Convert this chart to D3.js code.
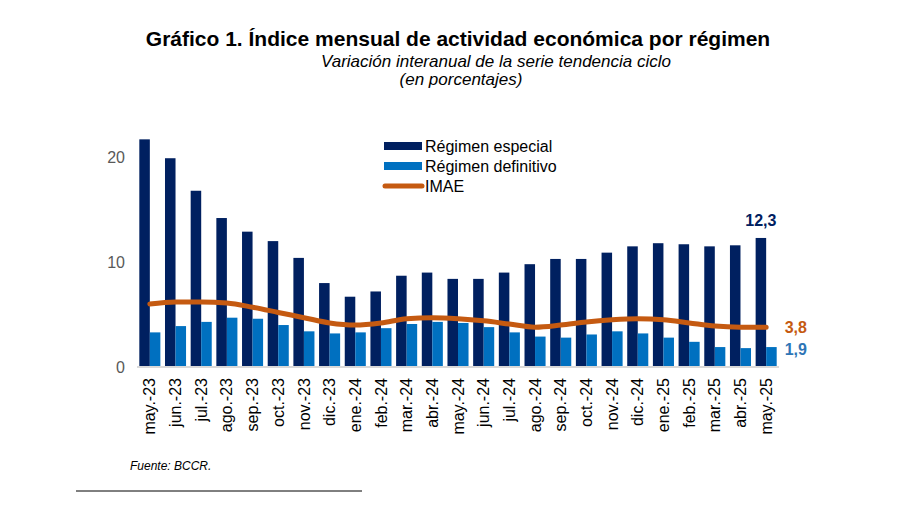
<!DOCTYPE html>
<html>
<head>
<meta charset="utf-8">
<script src="https://cdn.jsdelivr.net/npm/d3@7"></script>
<style>
  body { margin: 0; background: #fff; }
  svg { font-family: "Liberation Sans", Arial, sans-serif; }
</style>
</head>
<body>
<svg id="chart"></svg>
<script>
// datos
const meses = ["may.-23","jun.-23","jul.-23","ago.-23","sep.-23","oct.-23","nov.-23","dic.-23",
  "ene.-24","feb.-24","mar.-24","abr.-24","may.-24","jun.-24","jul.-24","ago.-24","sep.-24","oct.-24",
  "nov.-24","dic.-24","ene.-25","feb.-25","mar.-25","abr.-25","may.-25"];
const especial = [21.7,19.9,16.8,14.2,12.9,12.0,10.4,8.0,6.7,7.2,8.7,9.0,8.4,8.4,9.0,9.8,10.3,10.3,10.9,11.5,11.8,11.7,11.5,11.6,12.3];
const definitivo = [3.3,3.9,4.3,4.7,4.6,4.0,3.4,3.2,3.3,3.7,4.1,4.3,4.2,3.8,3.3,2.9,2.8,3.1,3.4,3.2,2.8,2.4,1.9,1.8,1.9];
const imae = [6.0,6.2,6.2,6.1,5.7,5.2,4.7,4.2,4.0,4.2,4.6,4.7,4.6,4.4,4.1,3.8,4.0,4.3,4.5,4.6,4.5,4.2,3.9,3.8,3.8];
const yTicks = [0, 10, 20];

const W = 904, H = 517;
const margin = { top: 132, right: 125, bottom: 150, left: 137 };
const width = W - margin.left - margin.right;
const height = H - margin.top - margin.bottom;

const svg = d3.select("#chart").attr("width", W).attr("height", H);

// titulos
svg.append("text").attr("x", 458).attr("y", 46).attr("text-anchor", "middle")
  .attr("font-size", 21).attr("font-weight", "bold").attr("fill", "#000")
  .text("Gráfico 1. Índice mensual de actividad económica por régimen");
svg.append("text").attr("x", 496).attr("y", 67).attr("text-anchor", "middle")
  .attr("font-size", 17).attr("font-style", "italic").attr("fill", "#000")
  .text("Variación interanual de la serie tendencia ciclo");
svg.append("text").attr("x", 461).attr("y", 85).attr("text-anchor", "middle")
  .attr("font-size", 17).attr("font-style", "italic").attr("fill", "#000")
  .text("(en porcentajes)");

const g = svg.append("g").attr("transform", `translate(${margin.left},${margin.top})`);

const x = d3.scaleBand().domain(meses).range([0, width]).paddingInner(0.18).paddingOuter(0.09);
const x1 = d3.scaleBand().domain(["esp", "def"]).range([0, x.bandwidth()]);
const y = d3.scaleLinear().domain([0, 22.4]).range([height, 0]);

// eje y (solo etiquetas)
g.selectAll(".ytick").data(yTicks).enter().append("text")
  .attr("x", -12).attr("y", d => y(d)).attr("dy", "0.35em")
  .attr("text-anchor", "end").attr("font-size", 16).attr("fill", "#595959")
  .text(d => d);

// barras
const grp = g.selectAll(".grp").data(meses).enter().append("g")
  .attr("transform", d => `translate(${x(d)},0)`);
grp.append("rect")
  .attr("x", x1("esp")).attr("width", x1.bandwidth())
  .attr("y", (d, i) => y(especial[i])).attr("height", (d, i) => height - y(especial[i]))
  .attr("fill", "#002060");
grp.append("rect")
  .attr("x", x1("def")).attr("width", x1.bandwidth())
  .attr("y", (d, i) => y(definitivo[i])).attr("height", (d, i) => height - y(definitivo[i]))
  .attr("fill", "#0070C0");

// linea base
g.append("line").attr("x1", 0).attr("x2", width).attr("y1", y(0)).attr("y2", y(0))
  .attr("stroke", "#D9D9D9").attr("stroke-width", 2);

// eje x
const xAxis = g.append("g").attr("transform", `translate(0,${height})`)
  .call(d3.axisBottom(x).tickSize(0).tickPadding(0));
xAxis.select(".domain").remove();
xAxis.selectAll("text")
  .attr("font-size", 16).attr("font-family", "Liberation Sans, Arial, sans-serif").attr("fill", "#000")
  .attr("transform", "rotate(-90)")
  .attr("text-anchor", "end").attr("x", -11).attr("y", 0).attr("dy", "0.35em");

// IMAE
const line = d3.line()
  .x((d, i) => x(meses[i]) + x.bandwidth() / 2)
  .y(d => y(d))
  .curve(d3.curveMonotoneX);
g.append("path").datum(imae).attr("d", line)
  .attr("fill", "none").attr("stroke", "#C55A11").attr("stroke-width", 5).attr("stroke-linecap", "round");

// etiquetas del ultimo dato
const last = meses.length - 1;
g.append("text").attr("x", x(meses[last]) + x1("esp") + x1.bandwidth() / 2).attr("y", y(especial[last]) - 12)
  .attr("text-anchor", "middle").attr("font-size", 16).attr("font-weight", "bold").attr("fill", "#002060")
  .text("12,3");
g.append("text").attr("x", x(meses[last]) + x.bandwidth() + 8).attr("y", y(imae[last])).attr("dy", "0.35em")
  .attr("font-size", 16).attr("font-weight", "bold").attr("fill", "#C55A11")
  .text("3,8");
g.append("text").attr("x", x(meses[last]) + x.bandwidth() + 8).attr("y", y(definitivo[last]) + 2).attr("dy", "0.35em")
  .attr("font-size", 16).attr("font-weight", "bold").attr("fill", "#2E75B6")
  .text("1,9");

// leyenda
const legend = svg.append("g").attr("transform", "translate(384,146)");
const items = [
  { name: "Régimen especial", color: "#002060", type: "bar" },
  { name: "Régimen definitivo", color: "#0070C0", type: "bar" },
  { name: "IMAE", color: "#C55A11", type: "line" }
];
items.forEach((it, i) => {
  const row = legend.append("g").attr("transform", `translate(0,${i * 20})`);
  if (it.type === "bar") {
    row.append("rect").attr("x", 0).attr("y", -4).attr("width", 38).attr("height", 8).attr("fill", it.color);
  } else {
    row.append("line").attr("x1", 1).attr("x2", 38).attr("y1", 0).attr("y2", 0)
      .attr("stroke", it.color).attr("stroke-width", 5).attr("stroke-linecap", "round");
  }
  row.append("text").attr("x", 41).attr("y", 0).attr("dy", "0.35em")
    .attr("font-size", 16).attr("fill", "#000").text(it.name);
});

// fuente
svg.append("text").attr("x", 130).attr("y", 470).attr("font-size", 12).attr("font-style", "italic")
  .attr("fill", "#000").text("Fuente:  BCCR.");
svg.append("line").attr("x1", 76).attr("x2", 362).attr("y1", 491).attr("y2", 491)
  .attr("stroke", "#000").attr("stroke-width", 1);
</script>
</body>
</html>
